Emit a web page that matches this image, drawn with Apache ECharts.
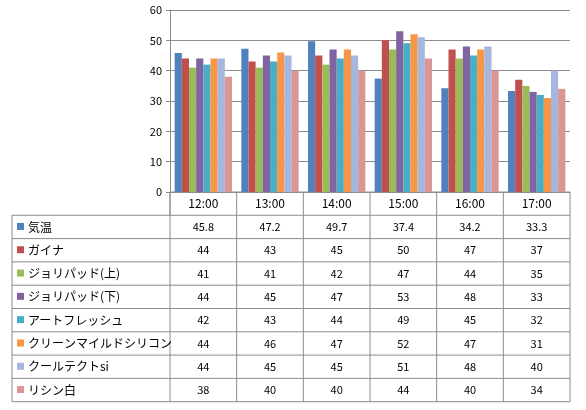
<!DOCTYPE html>
<html><head><meta charset="utf-8">
<script src="https://cdn.jsdelivr.net/npm/echarts@6/dist/echarts.min.js"></script>
<style>html,body{margin:0;background:#fff}#c{width:586px;height:410px}</style>
</head><body><div id="c"></div>
<script>
const times = ['12:00', '13:00', '14:00', '15:00', '16:00', '17:00'];
const names = ['気温', 'ガイナ', 'ジョリパッド(上)', 'ジョリパッド(下)', 'アートフレッシュ', 'クリーンマイルドシリコン', 'クールテクトsi', 'リシン白'];
const kion = [45.8, 47.2, 49.7, 37.4, 34.2, 33.3];
const gaina = [44, 43, 45, 50, 47, 37];
const jolyUp = [41, 41, 42, 47, 44, 35];
const jolyDown = [44, 45, 47, 53, 48, 33];
const artFresh = [42, 43, 44, 49, 45, 32];
const cleanMild = [44, 46, 47, 52, 47, 31];
const coolTect = [44, 45, 45, 51, 48, 40];
const lysine = [38, 40, 40, 44, 40, 34];
const values = [kion, gaina, jolyUp, jolyDown, artFresh, cleanMild, coolTect, lysine];
const colors = ['#4F81BD', '#C0504D', '#9BBB59', '#8064A2', '#4BACC6', '#F79646', '#A5B7DF', '#D99694'];

const font = '"Noto Sans CJK JP", sans-serif';
// layout of plot + table
const L = 170, R = 570, T = 10, B = 192, tableLeft = 12, rowH = 23.3;
const colW = (R - L) / times.length;
const line = '#8c8c8c';

const chart = echarts.init(document.getElementById('c'));
const g = [];
const hline = y => g.push({ type: 'line', shape: { x1: tableLeft, y1: y, x2: R, y2: y }, style: { stroke: line, lineWidth: 1 } });
// header row
g.push({ type: 'line', shape: { x1: L, y1: B, x2: L, y2: B + rowH }, style: { stroke: line } });
for (let i = 0; i <= times.length; i++) {
  const x = L + i * colW;
  g.push({ type: 'line', shape: { x1: x, y1: B, x2: x, y2: B + rowH * (names.length + 1) }, style: { stroke: line } });
}
g.push({ type: 'line', shape: { x1: tableLeft, y1: B + rowH, x2: tableLeft, y2: B + rowH * (names.length + 1) }, style: { stroke: line } });
g.push({ type: 'line', shape: { x1: L, y1: B, x2: R, y2: B }, style: { stroke: line } });
for (let r = 1; r <= names.length + 1; r++) hline(B + r * rowH);
times.forEach((t, i) => g.push({ type: 'text', x: L + (i + 0.5) * colW, y: B + rowH / 2, style: { text: t, font: '12px ' + font, fill: '#000', align: 'center', verticalAlign: 'middle' } }));
names.forEach((n, r) => {
  const cy = B + (r + 1.5) * rowH;
  g.push({ type: 'rect', shape: { x: 17, y: cy - 4, width: 7, height: 7 }, style: { fill: colors[r] } });
  g.push({ type: 'text', x: 28, y: cy, style: { text: n, font: '12px ' + font, fill: '#000', verticalAlign: 'middle' } });
  values[r].forEach((v, i) => g.push({ type: 'text', x: L + (i + 0.5) * colW, y: cy, style: { text: String(v), font: '11px ' + font, fill: '#000', align: 'center', verticalAlign: 'middle' } }));
});

chart.setOption({
  animation: false,
  grid: { left: L, right: 586 - R, top: T, bottom: 410 - B },
  xAxis: { type: 'category', data: times, axisLabel: { show: false }, axisTick: { show: false },
    axisLine: { lineStyle: { color: line } } },
  yAxis: { type: 'value', min: 0, max: 60, interval: 10,
    axisLine: { show: true, lineStyle: { color: line } }, axisTick: { show: true, length: 4, lineStyle: { color: line } },
    axisLabel: { color: '#000', fontSize: 11, fontFamily: font },
    splitLine: { lineStyle: { color: line } } },
  series: names.map((n, i) => ({ name: n, type: 'bar', data: values[i], barGap: '0%', barCategoryGap: '14%',
    itemStyle: { color: colors[i] } })),
  graphic: g
});
</script></body></html>
